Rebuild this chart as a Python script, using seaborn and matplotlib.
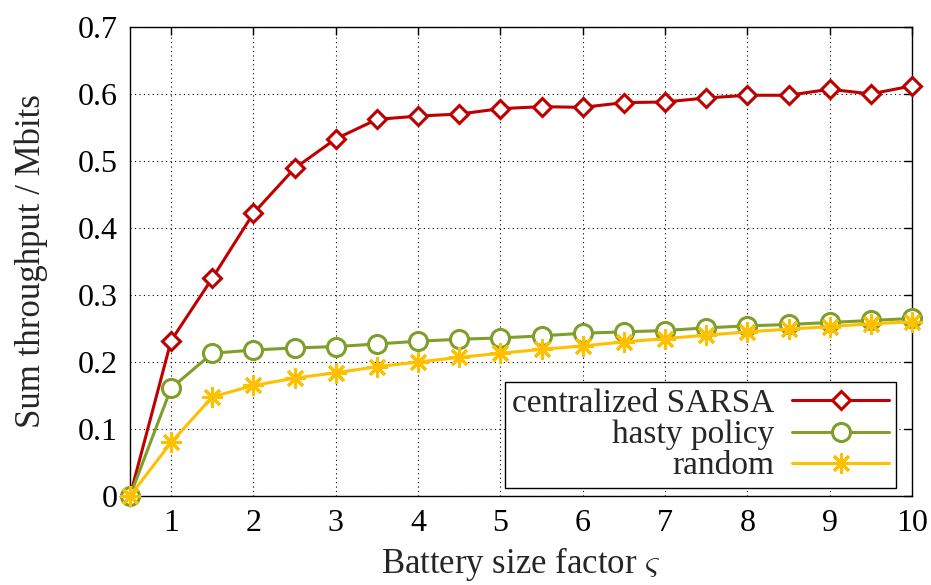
import matplotlib
matplotlib.use("Agg")
import matplotlib.pyplot as plt
import seaborn as sns
import pandas as pd
from matplotlib.ticker import FuncFormatter

x_vals = [0.5, 1, 1.5, 2, 2.5, 3, 3.5, 4, 4.5, 5, 5.5, 6, 6.5, 7, 7.5, 8, 8.5, 9, 9.5, 10]
sarsa = [0, 0.232, 0.325, 0.422, 0.489, 0.533, 0.562, 0.567, 0.570, 0.578,
         0.581, 0.580, 0.587, 0.588, 0.594, 0.598, 0.598, 0.607, 0.600, 0.612]
hasty = [0, 0.161, 0.213, 0.218, 0.221, 0.223, 0.227, 0.231, 0.234, 0.236,
         0.239, 0.243, 0.245, 0.247, 0.251, 0.254, 0.256, 0.259, 0.262, 0.265]
random_pol = [0, 0.080, 0.148, 0.165, 0.176, 0.184, 0.193, 0.200, 0.207, 0.213,
              0.219, 0.224, 0.230, 0.235, 0.240, 0.245, 0.249, 0.253, 0.257, 0.260]
labels = ["centralized SARSA", "hasty policy", "random"]
x_ticks = [1, 2, 3, 4, 5, 6, 7, 8, 9, 10]
y_ticks = [0, 0.1, 0.2, 0.3, 0.4, 0.5, 0.6, 0.7]

sns.set_theme(style="white")
plt.rcParams['font.family'] = ['Liberation Serif', 'DejaVu Serif']
plt.rcParams['mathtext.fontset'] = 'cm'

fig = plt.figure(figsize=(9.31, 5.85), dpi=100)
ax = fig.add_axes([0.1396, 0.152, 0.840, 0.802])

series = [sarsa, hasty, random_pol]
colors = ["#C00000", "#7F9F2A", "#FFC000"]
markers = ["D", "o", (8, 2, 0)]
msizes = [9.5, 13, 15]
fills = ["white", "white", "#FFC000"]

for vals, lab, c, m, ms, fc in zip(series, labels, colors, markers, msizes, fills):
    df = pd.DataFrame({"x": x_vals, "y": vals})
    sns.lineplot(data=df, x="x", y="y", ax=ax, color=c, marker=m, markersize=ms,
                 markerfacecolor=fc, markeredgecolor=c, markeredgewidth=2.2,
                 linewidth=2.2, label=lab, clip_on=False, zorder=3)

ax.set_xlim(0.5, 10)
ax.set_ylim(0, 0.7)
ax.set_xticks(x_ticks)
ax.set_yticks(y_ticks)
ax.yaxis.set_major_formatter(FuncFormatter(lambda v, p: "0" if abs(v) < 1e-9 else f"{v:.1f}"))
ax.grid(True, color="black", linestyle=(0, (1, 3)), linewidth=0.8)
ax.tick_params(direction="in", length=6, width=1, top=True, right=True,
               labelsize=23, pad=9, colors="black")
for s in ax.spines.values():
    s.set_color("black")
    s.set_linewidth(1.0)
ax.set_xlabel(r"Battery size factor $\varsigma$", fontsize=25, labelpad=5)
ax.set_ylabel("Sum throughput / Mbits", fontsize=25, labelpad=21)

leg = ax.legend(loc="lower right", bbox_to_anchor=(0.979, 0.017), markerfirst=False,
                fontsize=24, frameon=True, fancybox=False, edgecolor="black",
                framealpha=1, handlelength=2.9, borderpad=0.2, labelspacing=0.02,
                handletextpad=0.55, borderaxespad=0.0)
leg.get_frame().set_linewidth(1.0)
leg.set_zorder(5)

fig.savefig("out.png", dpi=100)
